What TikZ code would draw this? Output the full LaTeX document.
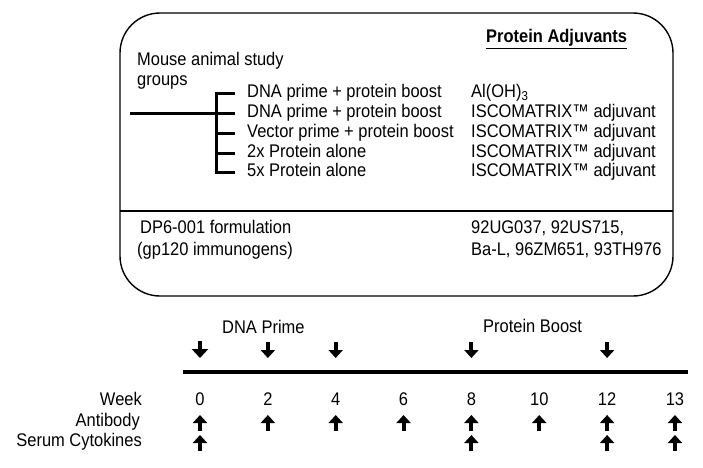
\documentclass[tikz,border=0pt]{standalone}
\usepackage{fontspec}
\setmainfont{Liberation Sans}[FakeStretch=0.9]
\usetikzlibrary{arrows.meta}

\tikzset{
	lbl/.style={font=\fontsize{18.3}{21}\selectfont, inner sep=0pt, text height=13pt, text depth=3.8pt},
	brk/.style={line width=3pt},
	dnarrow/.style={line width=4pt, -{Triangle[width=14pt,length=8pt]}},
	uparrow/.style={line width=4pt, -{Triangle[width=14pt,length=8pt]}}
}

\begin{document}
\begin{tikzpicture}[x=1pt, y=-1pt]
	\useasboundingbox (0,0) rectangle (703,467);
	\node[draw, line width=1.4pt, rounded corners=40pt, minimum width=553pt, minimum height=283pt] (box) at (396.5,154.5) {};
	\coordinate (divl) at (120,211);
	\coordinate (divr) at (673,211);
	\draw[line width=2.8pt] (divl) -- (divr);

	\node[lbl, anchor=west, font=\fontsize{18.3}{21}\selectfont\bfseries] (adj) at (486,38) {\underline{Protein Adjuvants}};
	\node[lbl, anchor=west] (mouse) at (137,61) {Mouse animal study};
	\node[lbl, anchor=west] (groups) at (137,81) {groups};

	\foreach \y/\grp/\adv [count=\i] in {
		93/DNA prime + protein boost/Al(OH)\textsubscript{3},
		113/DNA prime + protein boost/ISCOMATRIX™ adjuvant,
		133/Vector prime + protein boost/ISCOMATRIX™ adjuvant,
		153/2x Protein alone/ISCOMATRIX™ adjuvant,
		172/5x Protein alone/ISCOMATRIX™ adjuvant}
	{
		\node[lbl, anchor=west] (g\i) at (247,\y) {\grp};
		\node[lbl, anchor=west] (a\i) at (471,\y) {\adv};
	}
	\coordinate (fork) at (216,0);
	\coordinate (root) at (g2.west -| 130,0);
	\draw[brk] (root) -- (fork |- g2.west);
	\draw[brk] ([xshift=-12pt]g1.west) -- (fork |- g1.west) -- (fork |- g5.west) -- ([xshift=-12pt]g5.west);
	\foreach \i in {2,3,4}
		\draw[brk] (fork |- g\i.west) -- ([xshift=-12pt]g\i.west);

	\node[lbl, anchor=west] (dp) at (140,229) {DP6-001 formulation};
	\node[lbl, anchor=west] (gp) at (137,251) {(gp120 immunogens)};
	\node[lbl, anchor=west] (str1) at (471,229) {92UG037, 92US715,};
	\node[lbl, anchor=west] (str2) at (471,251) {Ba-L, 96ZM651, 93TH976};

	\node[lbl, anchor=west] (prime) at (222,329) {DNA Prime};
	\node[lbl, anchor=west] (boost) at (483,328) {Protein Boost};
	\coordinate (t0) at (183,372);
	\coordinate (t1) at (688,372);
	\draw[line width=3.8pt] (t0) -- (t1);

	\node[lbl, anchor=east] (week) at (142,401) {Week};
	\node[lbl, anchor=east] (antibody) at (140,422) {Antibody};
	\node[lbl, anchor=east] (serum) at (142,442) {Serum Cytokines};
	\foreach \w [count=\i from 0] in {0,2,4,6,8,10,12,13}
	{
		\node[lbl] (wk\w) at ({200+67.85*\i},401) {\w};
		\draw[uparrow] (wk\w |- 0,431) -- (wk\w |- 0,415);
	}
	\draw[dnarrow, line width=4.6pt, -{Triangle[width=16pt,length=9pt]}] (wk0 |- 0,341) -- (wk0 |- 0,358);
	\foreach \w in {2,4,8,12}
		\draw[dnarrow] (wk\w |- 0,342) -- (wk\w |- 0,358);
	\foreach \w in {0,8,12,13}
		\draw[uparrow] (wk\w |- 0,451) -- (wk\w |- 0,435);
\end{tikzpicture}
\end{document}
